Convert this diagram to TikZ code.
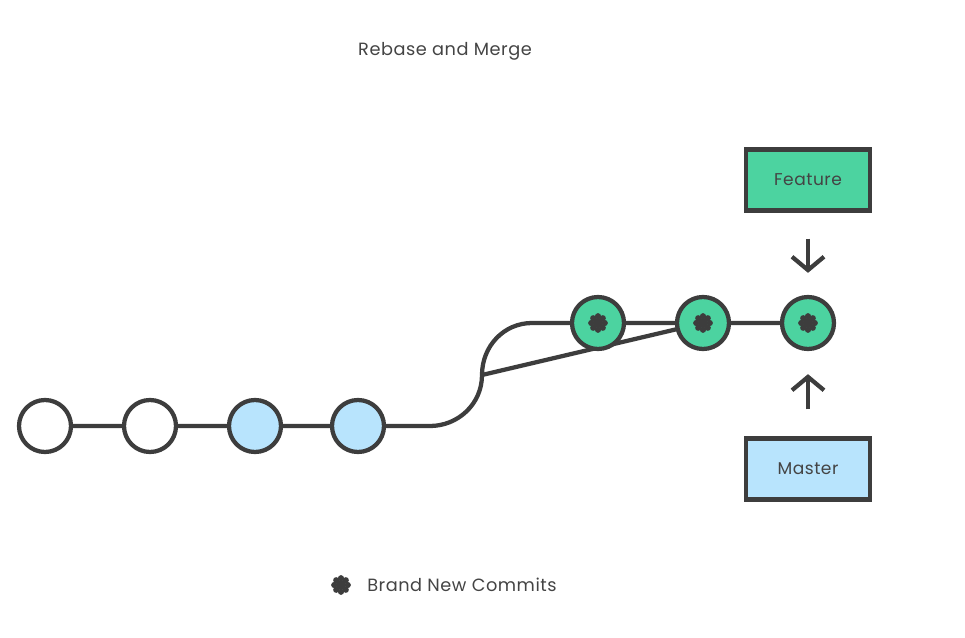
\documentclass[tikz,border=0pt]{standalone}
\usepackage{fontspec}
\setmainfont{Poppins}[LetterSpace=3]
\usetikzlibrary{arrows.meta,calc}
\definecolor{ink}{HTML}{3D3D3D}
\definecolor{txt}{HTML}{444444}
\definecolor{grn}{HTML}{4CD3A0}
\definecolor{blu}{HTML}{B8E4FD}
\tikzset{
  commit/.style={circle,draw=ink,line width=3.2pt,minimum size=39pt,inner sep=0pt},
  label box/.style={rectangle,draw=ink,line width=3.2pt,minimum width=93pt,minimum height=45.75pt,inner sep=0pt,font=\fontsize{12.8}{15}\selectfont,text=txt},
  link/.style={draw=ink,line width=3.2pt},
  pointer/.style={draw=ink,line width=3.2pt,-{Straight Barb[length=10pt,width=24pt,line width=3.2pt]}},
  flower/.pic={
    \fill[ink] (0,0) circle[radius=4pt];
    \foreach \a in {0,45,...,315}{\fill[ink] ($(0,0)+(\a:5.1pt)$) circle[radius=2.3pt];}
  },
  caption/.style={font=\fontsize{13.3}{16}\selectfont,text=txt,inner sep=0pt}
}
\begin{document}
\begin{tikzpicture}[x=0.75pt,y=-0.75pt]
\useasboundingbox (0,0) rectangle (965,638);
\node[caption] (title) at (445,51) {Rebase and Merge};
% curve and links
\coordinate (bend) at (482,375);
\coordinate (c1) at (45,426);
\coordinate (c2) at (150,426);
\coordinate (c3) at (255,426);
\coordinate (c4) at (358,426);
\coordinate (c5) at (598,323);
\coordinate (c6) at (703,323);
\coordinate (c7) at (808,323);
\draw[link] (c1) -- (c4) -- (430,426) .. controls (458,426) and (482,404) .. (bend)
  .. controls (482,346) and (504,323) .. (532,323) -- (c7);
\draw[link] (bend) -- (c6);
\node[commit,fill=white] (n1) at (c1) {};
\node[commit,fill=white] (n2) at (c2) {};
\node[commit,fill=blu] (n3) at (c3) {};
\node[commit,fill=blu] (n4) at (c4) {};
\node[commit,fill=grn] (n5) at (c5) {};
\node[commit,fill=grn] (n6) at (c6) {};
\node[commit,fill=grn] (n7) at (c7) {};
\pic at (n5) {flower};
\pic at (n6) {flower};
\pic at (n7) {flower};
% labels
\node[label box,fill=grn] (feature) at (808,180) {Feature};
\node[label box,fill=blu] (master) at (808,469) {Master};
\draw[pointer] ($(feature.south)+(0,26)$) -- ($(n7.north)+(0,-22)$);
\draw[pointer] ($(master.north)+(0,-27)$) -- ($(n7.south)+(0,23)$);
% legend
\coordinate (lg) at (341,585);
\pic at (lg) {flower};
\node[caption,anchor=west] (legend) at (367,585) {Brand New Commits};
\end{tikzpicture}
\end{document}
